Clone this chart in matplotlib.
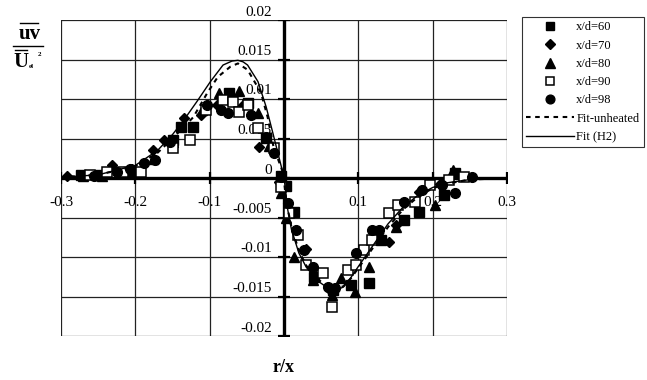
import matplotlib
matplotlib.use('Agg')
import matplotlib.pyplot as plt
from matplotlib.lines import Line2D

plt.rcParams['font.family'] = ['Liberation Serif', 'DejaVu Serif']

# Gegevens (r/x, uv/Ucl^2)
x60 = [-0.273, -0.247, -0.210, -0.149, -0.139, -0.122, -0.074, -0.049, -0.024, -0.004, 0.003,
       0.014, 0.040, 0.066, 0.090, 0.115, 0.131, 0.162, 0.181, 0.215, 0.230]
y60 = [0.0004, 0.0004, 0.0008, 0.0048, 0.0065, 0.0065, 0.0108, 0.0095, 0.0051, 0.0003, -0.0010,
       -0.0043, -0.0125, -0.0142, -0.0135, -0.0133, -0.0078, -0.0053, -0.0043, -0.0022, 0.0006]

x70 = [-0.292, -0.268, -0.231, -0.205, -0.176, -0.162, -0.135, -0.112, -0.090, -0.055, -0.034,
       -0.007, 0.006, 0.030, 0.060, 0.090, 0.141, 0.151, 0.182, 0.210]
y70 = [0.0003, 0.0004, 0.0016, 0.0011, 0.0035, 0.0048, 0.0076, 0.0080, 0.0092, 0.0092, 0.0039,
       -0.0005, -0.0038, -0.0090, -0.0140, -0.0135, -0.0081, -0.0059, -0.0018, -0.0008]

x80 = [-0.270, -0.245, -0.203, -0.176, -0.150, -0.110, -0.088, -0.061, -0.035, -0.020, -0.004,
       0.003, 0.014, 0.039, 0.064, 0.077, 0.095, 0.115, 0.150, 0.203, 0.228]
y80 = [0.0002, 0.0003, 0.0010, 0.0024, 0.0045, 0.0086, 0.0108, 0.0110, 0.0082, 0.0040, -0.0019,
       -0.0051, -0.0100, -0.0129, -0.0148, -0.0127, -0.0144, -0.0113, -0.0062, -0.0034, 0.0010]

x90 = [-0.261, -0.238, -0.216, -0.193, -0.149, -0.126, -0.105, -0.082, -0.069, -0.061, -0.049,
       -0.035, -0.014, -0.004, 0.007, 0.019, 0.030, 0.053, 0.064, 0.086, 0.097, 0.108, 0.118,
       0.141, 0.154, 0.176, 0.196, 0.222, 0.242]
y90 = [0.0004, 0.0008, 0.0008, 0.0008, 0.0038, 0.0048, 0.0086, 0.0099, 0.0096, 0.0084, 0.0092,
       0.0063, 0.0038, -0.0011, -0.0044, -0.0072, -0.0110, -0.0120, -0.0163, -0.0116, -0.0110,
       -0.0091, -0.0078, -0.0044, -0.0034, -0.0030, -0.0009, -0.0003, 0.0001]

x98 = [-0.255, -0.225, -0.207, -0.189, -0.173, -0.153, -0.103, -0.085, -0.076, -0.045, -0.024,
       -0.014, -0.004, 0.005, 0.016, 0.027, 0.039, 0.059, 0.068, 0.097, 0.118, 0.128, 0.161,
       0.185, 0.212, 0.230, 0.253]
y98 = [0.0003, 0.0007, 0.0011, 0.0019, 0.0023, 0.0046, 0.0092, 0.0086, 0.0082, 0.0080, 0.0052,
       0.0032, 0.0001, -0.0032, -0.0066, -0.0091, -0.0113, -0.0138, -0.0139, -0.0095, -0.0066,
       -0.0066, -0.0030, -0.0015, -0.0009, -0.0019, 0.0001]

xfu = [-0.30, -0.25, -0.20, -0.17, -0.15, -0.122, -0.103, -0.089, -0.072, -0.062, -0.049,
       -0.031, -0.022, -0.014, -0.001, 0.003, 0.010, 0.020, 0.030, 0.045, 0.060, 0.070, 0.080,
       0.090, 0.100, 0.120, 0.140, 0.160, 0.180, 0.200, 0.220, 0.250, 0.300]
yfu = [0.0001, 0.0004, 0.0015, 0.0032, 0.0050, 0.0077, 0.0108, 0.0128, 0.0141, 0.0145, 0.0137,
       0.0108, 0.0077, 0.0039, 0.0006, -0.0030, -0.0062, -0.0092, -0.0111, -0.0128, -0.0138,
       -0.0140, -0.0137, -0.0127, -0.0114, -0.0088, -0.0062, -0.0040, -0.0024, -0.0013, -0.0007,
       -0.0002, 0.0]

xfh = [-0.30, -0.25, -0.20, -0.17, -0.15, -0.135, -0.117, -0.099, -0.082, -0.070, -0.062,
       -0.055, -0.049, -0.035, -0.024, -0.015, -0.007, 0.0, 0.005, 0.010, 0.020, 0.030, 0.045,
       0.060, 0.070, 0.080, 0.090, 0.100, 0.120, 0.140, 0.160, 0.180, 0.200, 0.220, 0.250, 0.300]
yfh = [0.0001, 0.0004, 0.0016, 0.0035, 0.0055, 0.0073, 0.0097, 0.0122, 0.0143, 0.0148, 0.0149,
       0.0147, 0.0143, 0.0122, 0.0090, 0.0057, 0.0027, 0.0001, -0.0040, -0.0065, -0.0095,
       -0.0113, -0.0130, -0.0140, -0.0142, -0.0138, -0.0126, -0.0112, -0.0085, -0.0058, -0.0037,
       -0.0022, -0.0012, -0.0006, -0.0002, 0.0]

xticks = [-0.3, -0.2, -0.1, 0.1, 0.2, 0.3]
xticklabels = ['-0.3', '-0.2', '-0.1', '0.1', '0.2', '0.3']
yticks = [-0.02, -0.015, -0.01, -0.005, 0, 0.005, 0.01, 0.015, 0.02]
yticklabels = ['-0.02', '-0.015', '-0.01', '-0.005', '0', '0.005', '0.01', '0.015', '0.02']

fig = plt.figure(figsize=(6.47, 3.8), dpi=100)
ax = fig.add_axes([61 / 647, 44 / 380, 446 / 647, 316 / 380])
ax.set_xlim(-0.3, 0.3)
ax.set_ylim(-0.02, 0.02)
ax.axis('off')

# rasterlijnen
for xv in [-0.3, -0.2, -0.1, 0.1, 0.2, 0.3]:
    ax.plot([xv, xv], [-0.02, 0.02], color='#222222', lw=0.9, zorder=1)
for yv in yticks:
    ax.plot([-0.3, 0.3], [yv, yv], color='#222222', lw=0.9, zorder=1)

# dikke assen door de oorsprong
ax.plot([-0.3, 0.3], [0, 0], color='black', lw=2.4, zorder=2)
ax.plot([0, 0], [-0.02, 0.02], color='black', lw=2.4, zorder=2)
ax.plot(xticks, [0] * len(xticks), ls='none', marker='|', ms=8, mew=1.6, color='black', zorder=2)
ax.plot([0] * len(yticks), yticks, ls='none', marker='_', ms=9, mew=1.6, color='black', zorder=2)

for xv, lab in zip(xticks, xticklabels):
    ax.annotate(lab, xy=(xv, 0), xytext=(0, -24), textcoords='offset pixels',
                ha='center', va='center', fontsize=11)
for yv, lab in zip(yticks, yticklabels):
    ax.annotate(lab, xy=(0, yv), xytext=(-12, 8), textcoords='offset pixels',
                ha='right', va='center', fontsize=11)

kw = dict(ls='none', color='black', mec='black', zorder=3)
ax.plot(x60, y60, marker='s', ms=6.5, label='x/d=60', **kw)
ax.plot(x70, y70, marker='D', ms=5.5, label='x/d=70', **kw)
ax.plot(x80, y80, marker='^', ms=7.5, label='x/d=80', **kw)
ax.plot(x90, y90, marker='s', ms=6.5, mfc='white', mew=1.1, label='x/d=90', **kw)
ax.plot(x98, y98, marker='o', ms=7, label='x/d=98', **kw)
ax.plot(xfu, yfu, color='black', lw=1.5, ls=(0, (2.2, 2.2)), label='Fit-unheated', zorder=4)
ax.plot(xfh, yfh, color='black', lw=1.0, label='Fit (H2)', zorder=4)

leg = fig.legend(loc='upper left', bbox_to_anchor=(522 / 647, 1 - 17 / 380),
                 prop={'size': 9}, frameon=True, fancybox=False, edgecolor='black',
                 handlelength=3.8, handletextpad=0.2, labelspacing=0.5, borderpad=0.35,
                 borderaxespad=0, markerscale=0.9)
leg.get_frame().set_linewidth(0.8)

# y-as label als breuk
fig.text(30 / 647, 1 - 34 / 380, 'uv', fontsize=15, fontweight='bold', ha='center', va='center')
fig.add_artist(Line2D([20 / 647, 38 / 647], [1 - 23 / 380, 1 - 23 / 380], color='black', lw=1))
fig.add_artist(Line2D([13 / 647, 43 / 647], [1 - 46 / 380, 1 - 46 / 380], color='black', lw=1))
fig.add_artist(Line2D([15 / 647, 27 / 647], [1 - 50 / 380, 1 - 50 / 380], color='black', lw=1))
fig.text(21 / 647, 1 - 62 / 380, 'U', fontsize=15, fontweight='bold', ha='center', va='center')
fig.text(29 / 647, 1 - 66 / 380, 'el', fontsize=5, fontweight='bold', ha='left', va='center')
fig.text(38 / 647, 1 - 55 / 380, '2', fontsize=5, fontweight='bold', ha='left', va='center')

fig.text(284 / 647, 1 - 367 / 380, 'r/x', fontsize=13, fontweight='bold', ha='center', va='center')

fig.savefig('out.png', dpi=100)
